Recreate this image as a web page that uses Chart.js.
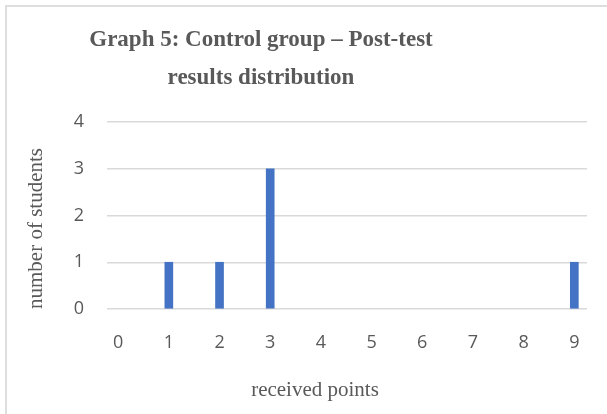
<!DOCTYPE html>
<html>
<head>
<meta charset="utf-8">
<script src="https://cdn.jsdelivr.net/npm/chart.js@4"></script>
<style>
  body { margin: 0; background: #fff; }
  #frame { position: absolute; left: 5px; top: 5px; width: 700px; height: 500px; border: 2px solid #dedede; }
  #wrap { position: absolute; left: 0; top: 0; width: 607px; height: 414px; }
</style>
</head>
<body>
<div id="frame"></div>
<div id="wrap"><canvas id="chart" width="607" height="414"></canvas></div>
<script>
// data
const points = [0, 1, 2, 3, 4, 5, 6, 7, 8, 9];
const students = [0, 1, 1, 3, 0, 0, 0, 0, 0, 1];
const titleLines = ['Graph 5: Control group \u2013 Post-test', 'results distribution'];
const xTitle = 'received points';

const grey = '#595959';
const serif = '"Liberation Serif", "Times New Roman", serif';

// the title and x axis title are not centred on the plot in the original,
// so they are drawn here at their own spots
const titlePlugin = {
    id: 'titleLines',
    afterDraw(chart) {
        const ctx = chart.ctx;
        ctx.save();
        ctx.fillStyle = grey;
        ctx.textAlign = 'center';
        ctx.textBaseline = 'alphabetic';
        ctx.font = 'bold 23px ' + serif;
        ctx.fillText(titleLines[0], 261, 46);
        ctx.fillText(titleLines[1], 261, 84);
        ctx.font = '21px ' + serif;
        ctx.fillText(xTitle, 315, 396);
        ctx.restore();
    }
};

new Chart(document.getElementById('chart'), {
    type: 'bar',
    data: {
        datasets: [{
            label: 'students',
            // zero counts drawn as no bar
            data: points.map((p, i) => ({ x: p, y: students[i] || null })),
            backgroundColor: '#4472C4',
            barThickness: 8
        }]
    },
    options: {
        responsive: false,
        animation: false,
        layout: { padding: { left: 0, right: 20, top: 122, bottom: 0 } },
        plugins: {
            legend: { display: false },
            tooltip: { enabled: false }
        },
        scales: {
            x: {
                type: 'linear',
                offset: false,
                min: -0.22,
                max: 9.25,
                afterBuildTicks: scale => { scale.ticks = points.map(v => ({ value: v })); },
                afterFit: scale => { scale.height = 105; },
                grid: { display: false },
                border: { display: false },
                ticks: { color: grey, padding: 15, font: { family: '"Open Sans", sans-serif', size: 18 } }
            },
            y: {
                min: 0,
                max: 4,
                afterFit: scale => { scale.width = 107; },
                grid: { color: '#d9d9d9', lineWidth: 1.5, drawTicks: false },
                border: { display: false },
                ticks: { stepSize: 1, color: grey, padding: 23, font: { family: '"Open Sans", sans-serif', size: 18 } },
                title: {
                    display: true,
                    text: 'number of students',
                    align: 'start',
                    color: grey,
                    font: { family: serif, size: 21 },
                    padding: { top: 24, bottom: 0 }
                }
            }
        }
    },
    plugins: [titlePlugin]
});
</script>
</body>
</html>
